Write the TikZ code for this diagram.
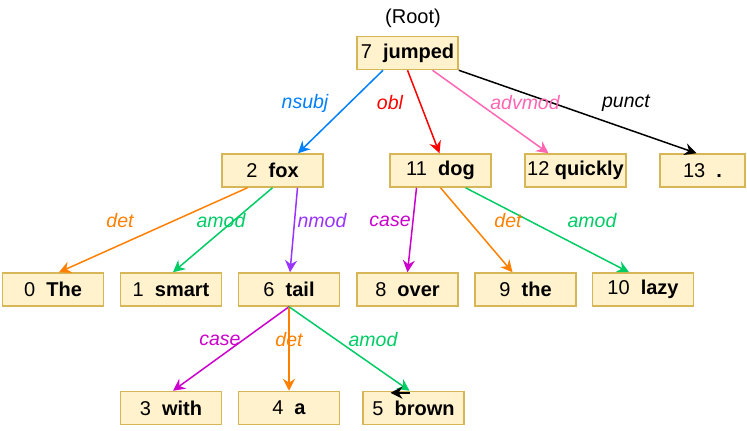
\documentclass[tikz,border=0pt]{standalone}
\usepackage{fontspec}
\setmainfont{Liberation Sans}
\usetikzlibrary{arrows.meta}
\definecolor{boxfill}{HTML}{FFF2CC}
\definecolor{boxline}{HTML}{D6B656}
\definecolor{cnsubj}{HTML}{007FFF}
\definecolor{cobl}{HTML}{FF0000}
\definecolor{cadv}{HTML}{FF66B3}
\definecolor{cdet}{HTML}{FF8000}
\definecolor{camod}{HTML}{00CC66}
\definecolor{cnmod}{HTML}{9933FF}
\definecolor{ccase}{HTML}{CC00CC}
\begin{document}
\begin{tikzpicture}[x=1pt,y=-1pt,
  tok/.style={draw=boxline, fill=boxfill, line width=1.5pt, minimum width=101pt, minimum height=33pt, inner sep=0pt, font=\fontsize{20}{22}\selectfont},
  lab/.style={font=\fontsize{19.5}{22}\selectfont\itshape, inner sep=0pt},
  dep/.style={line width=1.5pt, -{Stealth[length=12pt,width=12pt,inset=4pt]}}
]
\useasboundingbox (0,0) rectangle (747,431);
\node[font=\fontsize{20}{22}\selectfont] (root) at (413,18) {(Root)};
\node[tok] (jumped) at (407.5,53) {7\ \ \textbf{jumped}};
\node[tok] (fox) at (272.5,170.5) {2\ \ \textbf{fox}};
\node[tok] (dog) at (440.5,170.5) {11\ \ \textbf{dog}};
\node[tok] (quickly) at (575.5,170.5) {12 \textbf{quickly}};
\node[tok, minimum width=85pt] (punct) at (702.5,170.5) {13\ \ \textbf{.}};
\node[tok] (The) at (53,289.5) {0\ \ \textbf{The}};
\node[tok] (smart) at (171,289.5) {1\ \ \textbf{smart}};
\node[tok] (tail) at (289,289.5) {6\ \ \textbf{tail}};
\node[tok] (over) at (407.5,289.5) {8\ \ \textbf{over}};
\node[tok] (the) at (525.5,289.5) {9\ \ \textbf{the}};
\node[tok] (lazy) at (643,289.5) {10\ \ \textbf{lazy}};
\node[tok] (with) at (171,408) {3\ \ \textbf{with}};
\node[tok] (a) at (289,408) {4\ \ \textbf{a}};
\node[tok] (brown) at (413.5,408) {5\ \ \textbf{brown}};

% level 1
\draw[dep, cnsubj] ([xshift=-24.5pt]jumped.south) -- ([xshift=25.5pt]fox.north);
\draw[dep, cobl] ([xshift=0pt]jumped.south) -- ([xshift=-1pt]dog.north);
\draw[dep, cadv] ([xshift=25pt]jumped.south) -- ([xshift=-27pt]quickly.north);
\draw[dep, black] (jumped.south east) -- ([xshift=-6pt]punct.north);
\node[lab, text=cnsubj] (l1) at (305,103) {nsubj};
\node[lab, text=cobl] (l2) at (390,103) {obl};
\node[lab, text=cadv] (l3) at (525,103) {advmod};
\node[lab, text=black] (l4) at (626,103) {punct};

% level 2
\draw[dep, cdet] ([xshift=-25pt]fox.south) -- ([xshift=6pt]The.north);
\draw[dep, camod] (fox.south) -- ([xshift=2pt]smart.north);
\draw[dep, cnmod] ([xshift=25pt]fox.south) -- ([xshift=1pt]tail.north);
\draw[dep, ccase] ([xshift=-24pt]dog.south) -- ([xshift=0pt]over.north);
\draw[dep, cdet] (dog.south) -- ([xshift=-13pt]the.north);
\draw[dep, camod] ([xshift=25pt]dog.south) -- ([xshift=-14pt]lazy.north);
\node[lab, text=cdet] (l5) at (120,221) {det};
\node[lab, text=camod] (l6) at (221,221) {amod};
\node[lab, text=cnmod] (l7) at (322,221) {nmod};
\node[lab, text=ccase] (l8) at (390,221) {case};
\node[lab, text=cdet] (l9) at (508,221) {det};
\node[lab, text=camod] (l10) at (592,221) {amod};

% level 3
\draw[dep, ccase] (tail.south) -- ([xshift=2pt]with.north);
\draw[dep, cdet] (tail.south) -- (a.north);
\draw[dep, camod] (tail.south) -- ([xshift=-4pt]brown.north);
\draw[dep, black] ([xshift=-4pt,yshift=-2pt]brown.north) -- ([xshift=-23pt,yshift=-2pt]brown.north);
\node[lab, text=ccase] (l11) at (220,340) {case};
\node[lab, text=cdet] (l12) at (289,340) {det};
\node[lab, text=camod] (l13) at (373,340) {amod};
\end{tikzpicture}
\end{document}
